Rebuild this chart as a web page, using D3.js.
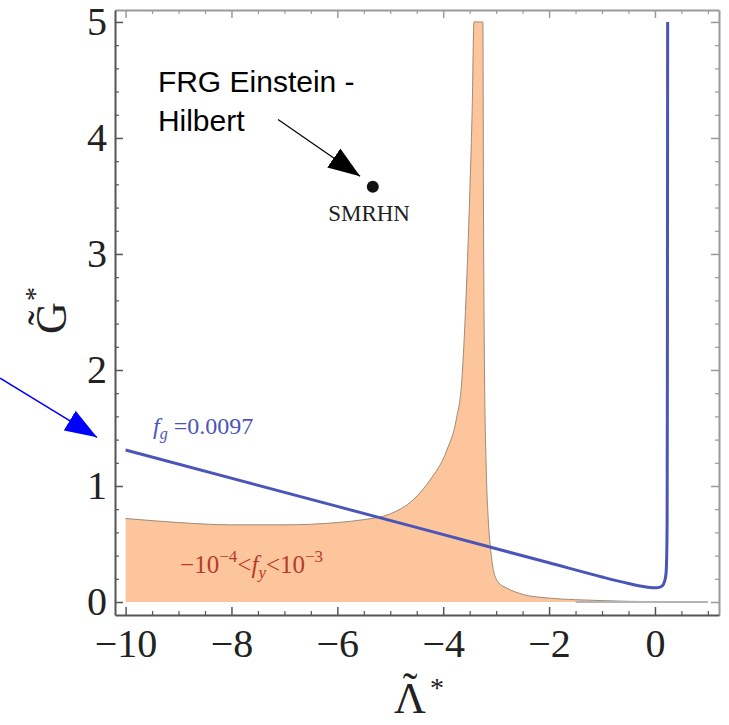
<!DOCTYPE html>
<html>
<head>
<meta charset="utf-8">
<script src="https://cdn.jsdelivr.net/npm/d3@7"></script>
<style>
  body { margin: 0; background: #fff; }
  svg { display: block; }
</style>
</head>
<body>
<svg id="chart" width="729" height="725"></svg>
<script>
// Shaded region  -10^-4 < f_y < 10^-3  (upper edge)
const shadeX = [-10, -9, -8, -7, -6, -5.5, -5, -4.57, -4.25, -3.93, -3.75, -3.65, -3.57, -3.5, -3.45, -3.42,
                -3.25, -3.24, -3.22, -3.19, -3.15, -3.1, -3.05, -2.95, -2.8, -2.49, -2.04, -1.5, -1, -0.5, 0];
const shadeY = [0.72, 0.685, 0.665, 0.665, 0.685, 0.71, 0.76, 0.88, 1.05, 1.31, 1.58, 1.9, 2.61, 3.5, 4.3, 5.0,
                5.0, 3.5, 2.0, 1.2, 0.72, 0.44, 0.27, 0.165, 0.12, 0.065, 0.035, 0.02, 0.012, 0.006, 0.003];

// f_g = 0.0097 curve
const curveX = [-10, -6, -2, -1, -0.5, -0.25, -0.1, 0, 0.08, 0.14, 0.18, 0.21, 0.222, 0.23, 0.235, 0.24];
const curveY = [1.31, 0.824, 0.338, 0.216, 0.16, 0.135, 0.125, 0.122, 0.126, 0.14, 0.175, 0.25, 0.4, 0.7, 2.0, 5.0];

// SMRHN fixed point
const pointX = [-5.33];
const pointY = [3.58];

const xMajor = [-10, -8, -6, -4, -2, 0];
const yMajor = [0, 1, 2, 3, 4, 5];

const width = 729, height = 725;
const frame = {left: 115, right: 719, top: 10, bottom: 615};

const svg = d3.select("#chart");

const x = d3.scaleLinear().domain([-10.2, 1.21]).range([frame.left, frame.right]);
const y = d3.scaleLinear().domain([-0.112, 5.103]).range([frame.bottom, frame.top]);

const xMinor = d3.range(-10, 1.01, 0.5).filter(v => !xMajor.includes(v));
const yMinor = d3.range(0, 5.01, 0.2).map(v => +v.toFixed(1)).filter(v => !yMajor.includes(v));

const fmt = d => d < 0 ? "\u2212" + Math.abs(d) : "" + d;
const serif = "'Liberation Serif', 'DejaVu Serif', serif";

// Shaded area
const shade = shadeX.map((v, i) => [v, shadeY[i]]);
svg.append("path")
    .attr("fill", "#fcc59b")
    .attr("d", d3.area().x(d => x(d[0])).y0(y(0)).y1(d => y(d[1])).curve(d3.curveMonotoneX)(shade));
svg.append("path")
    .attr("fill", "none")
    .attr("stroke", "#a08a78")
    .attr("stroke-width", 1)
    .attr("d", d3.line().x(d => x(d[0])).y(d => y(d[1])).curve(d3.curveMonotoneX)(shade));

// zero line on the right
svg.append("line")
    .attr("x1", x(-1.5)).attr("x2", x(1.0))
    .attr("y1", y(0)).attr("y2", y(0))
    .attr("stroke", "#b4b4b4")
    .attr("stroke-width", 2);

// f_g curve
const fg = curveX.map((v, i) => [v, curveY[i]]);
svg.append("path")
    .attr("fill", "none")
    .attr("stroke", "#4b55b8")
    .attr("stroke-width", 3)
    .attr("d", d3.line().x(d => x(d[0])).y(d => y(d[1])).curve(d3.curveMonotoneX)(fg));

// Axes (frame style, ticks pointing inward)
function frameAxis(axis, pos, major, minor, labels, color) {
    const g = svg.append("g").attr("transform", pos);
    g.call(axis.tickValues(major).tickSize(-8).tickSizeOuter(0)
            .tickPadding(labels ? 8 : 0).tickFormat(labels ? fmt : ""))
        .call(a => a.select(".domain").attr("stroke", color).attr("stroke-width", 2))
        .call(a => a.selectAll(".tick line").attr("stroke", color).attr("stroke-width", 1.5))
        .call(a => a.selectAll("text").attr("font-family", serif).attr("font-size", 40).attr("fill", "#222"));
    const gm = svg.append("g").attr("transform", pos);
    gm.call(axis.tickValues(minor).tickSize(-4).tickFormat(""))
        .call(a => a.select(".domain").remove())
        .call(a => a.selectAll(".tick line").attr("stroke", color).attr("stroke-width", 1.2));
    return g;
}

frameAxis(d3.axisTop(x), `translate(0,${frame.top})`, xMajor, xMinor, false, "#9a9a9a");
frameAxis(d3.axisRight(y), `translate(${frame.right},0)`, yMajor, yMinor, false, "#9a9a9a");
const gx = frameAxis(d3.axisBottom(x), `translate(0,${frame.bottom})`, xMajor, xMinor, true, "#555");
gx.selectAll("text").attr("y", 14);
frameAxis(d3.axisLeft(y), `translate(${frame.left},0)`, yMajor, yMinor, true, "#555");

// Axis titles (tilde and star as separate tspans)
const xt = svg.append("text")
    .attr("text-anchor", "middle")
    .attr("font-family", serif).attr("fill", "#222");
xt.append("tspan").attr("x", 410).attr("y", 713).attr("font-size", 44).text("\u039B");
xt.append("tspan").attr("x", 410).attr("y", 703).attr("font-size", 44).text("\u02DC");
xt.append("tspan").attr("x", 437).attr("y", 697).attr("font-size", 28).text("*");

const yt = svg.append("g").attr("transform", "translate(66,318) rotate(-90)")
    .append("text")
    .attr("text-anchor", "middle")
    .attr("font-family", serif).attr("fill", "#222");
yt.append("tspan").attr("x", 0).attr("y", 0).attr("font-size", 44).text("G");
yt.append("tspan").attr("x", 0).attr("y", -8).attr("font-size", 44).text("\u02DC");
yt.append("tspan").attr("x", 24).attr("y", -22).attr("font-size", 28).text("*");

// Curve and region labels
const fgLabel = svg.append("text")
    .attr("x", x(-9.48)).attr("y", y(1.45))
    .attr("font-family", serif).attr("font-size", 24).attr("fill", "#4b55b8");
fgLabel.append("tspan").attr("font-style", "italic").text("f");
fgLabel.append("tspan").attr("font-style", "italic").attr("font-size", 16).attr("dy", 5).text("g");
fgLabel.append("tspan").attr("dy", -5).text(" =0.0097");

const fyLabel = svg.append("text")
    .attr("x", x(-8.97)).attr("y", y(0.25))
    .attr("font-family", serif).attr("font-size", 25).attr("fill", "#b8392c");
fyLabel.append("tspan").text("\u221210");
fyLabel.append("tspan").attr("font-size", 17).attr("dy", -11).text("\u22124");
fyLabel.append("tspan").attr("dy", 11).text("<");
fyLabel.append("tspan").attr("font-style", "italic").text("f");
fyLabel.append("tspan").attr("font-style", "italic").attr("font-size", 17).attr("dy", 5).text("y");
fyLabel.append("tspan").attr("dy", -5).text("<10");
fyLabel.append("tspan").attr("font-size", 17).attr("dy", -11).text("\u22123");

// SMRHN point
svg.selectAll(".pt")
    .data(pointX.map((v, i) => [v, pointY[i]]))
    .join("circle")
    .attr("class", "pt")
    .attr("cx", d => x(d[0])).attr("cy", d => y(d[1]))
    .attr("r", 6)
    .attr("fill", "#111");
svg.append("text")
    .attr("x", x(-5.4)).attr("y", y(3.28))
    .attr("text-anchor", "middle")
    .attr("font-family", serif).attr("font-size", 23).attr("fill", "#222")
    .text("SMRHN");

// Annotations
const defs = svg.append("defs");
function arrowMarker(id, color) {
    defs.append("marker")
        .attr("id", id)
        .attr("markerUnits", "userSpaceOnUse")
        .attr("viewBox", "0 -12 32 24")
        .attr("refX", 32).attr("refY", 0)
        .attr("markerWidth", 32).attr("markerHeight", 24)
        .attr("orient", "auto")
        .append("path")
        .attr("d", "M0,-11.5L32,0L0,11.5Z")
        .attr("fill", color);
}
arrowMarker("arrow-black", "#000");
arrowMarker("arrow-blue", "#0000ff");

svg.append("text")
    .attr("font-family", "'Liberation Sans', Arial, sans-serif")
    .attr("font-size", 30).attr("fill", "#000")
    .selectAll("tspan")
    .data([["FRG Einstein -", 4.40], ["Hilbert", 4.06]])
    .join("tspan")
    .attr("x", x(-9.39)).attr("y", d => y(d[1]))
    .text(d => d[0]);

svg.append("line")
    .attr("x1", x(-7.12)).attr("y1", y(4.16))
    .attr("x2", x(-5.57)).attr("y2", y(3.67))
    .attr("stroke", "#000").attr("stroke-width", 1.2)
    .attr("marker-end", "url(#arrow-black)");

svg.append("line")
    .attr("x1", x(-12.37)).attr("y1", y(1.93))
    .attr("x2", x(-10.54)).attr("y2", y(1.42))
    .attr("stroke", "#0000ff").attr("stroke-width", 1.5)
    .attr("marker-end", "url(#arrow-blue)");
</script>
</body>
</html>
